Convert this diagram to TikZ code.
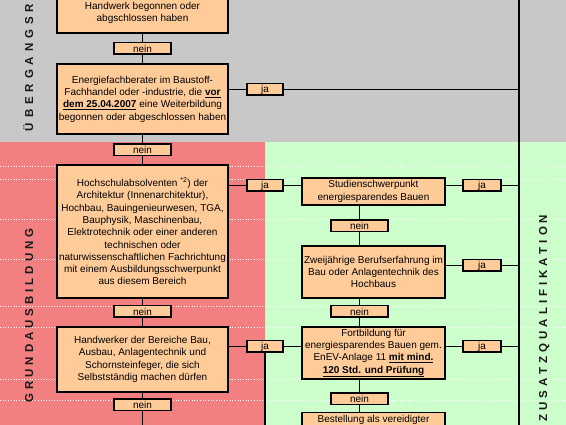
\documentclass[tikz,border=0pt]{standalone}
\usepackage{fontspec}
\setmainfont{Liberation Sans}
\definecolor{bggray}{RGB}{200,200,200}
\definecolor{bgred}{RGB}{242,128,128}
\definecolor{bggreen}{RGB}{204,255,204}
\definecolor{boxfill}{RGB}{255,204,153}
\newcommand{\lsA}{\kern3.95pt}
\newcommand{\lsB}{\kern4.9pt}
\begin{document}
\begin{tikzpicture}[x=1pt,y=-1pt,
  box/.style={draw=black, line width=1.5pt, fill=boxfill, align=center,
    font=\fontsize{10}{12.3}\selectfont, inner sep=0pt},
  tag/.style={draw=black, line width=1.5pt, fill=boxfill,
    font=\fontsize{10}{12}\selectfont, inner sep=0pt, minimum height=11.5pt},
  conn/.style={line width=1.6pt},
  side/.style={font=\fontsize{11.5}{13}\selectfont\bfseries, text=black!90,
    rotate=90, anchor=base, inner sep=0pt},
  gridln/.style={white, dotted, line width=0.7pt}
]
\path[use as bounding box, clip] (0,0) rectangle (566,425);
% backgrounds
\fill[bggray] (0,0) rectangle (566,142);
\fill[bgred] (0,142) rectangle (265,425);
\fill[bggreen] (265,142) rectangle (566,425);
\foreach \gy in {166,179,219,259,306,327,379,400}
  \draw[gridln] (0,\gy) -- (566,\gy);
% side labels
\node[side] (lab1) at (33.2,67.5) {Ü\lsB B\lsB E\lsB R\lsB G\lsB A\lsB N\lsB G\lsB S\lsB R};
\node[side] (lab2) at (33.2,315.5) {G\lsA R\lsA U\lsA N\lsA D\lsA A\lsA U\lsA S\lsA B\lsA I\lsA L\lsA D\lsA U\lsA N\lsA G};
\node[side] (lab3) at (547.2,318) {Z\lsA U\lsA S\lsA A\lsA T\lsA Z\lsA Q\lsA U\lsA A\lsA L\lsA I\lsA F\lsA I\lsA K\lsA A\lsA T\lsA I\lsA O\lsA N};
% helper coordinates
\coordinate (vt) at (519,-5);
\coordinate (vb) at (519,430);
\coordinate (bot) at (0,430);
% left column
\node[box, minimum width=171pt, minimum height=40pt] (b1) at (142.5,13)
  {Handwerk begonnen oder\\abgschlossen haben};
\node[tag, minimum width=57pt] (n1) at (142.5,48.5) {nein};
\node[box, minimum width=171pt, minimum height=70pt] (b2) at (142.5,99)
  {Energiefachberater im Baustoff-\\Fachhandel oder -industrie, die \underline{\textbf{vor}}\\\underline{\textbf{dem 25.04.2007}} eine Weiterbildung\\begonnen oder abgeschlossen haben};
\node[tag, minimum width=57pt] (n2) at (142.5,150) {nein};
\node[box, minimum width=171pt, minimum height=133pt] (b3) at (142.5,231.5)
  {Hochschulabsolventen \textsuperscript{*2}) der\\Architektur (Innenarchitektur),\\Hochbau, Bauingenieurwesen, TGA,\\Bauphysik, Maschinenbau,\\Elektrotechnik oder einer anderen\\technischen oder\\naturwissenschaftlichen Fachrichtung\\mit einem Ausbildungsschwerpunkt\\aus diesem Bereich};
\node[tag, minimum width=57pt] (n3) at (142.5,311.5) {nein};
\node[box, minimum width=171pt, minimum height=65pt] (b4) at (142.5,359.5)
  {Handwerker der Bereiche Bau,\\Ausbau, Anlagentechnik und\\Schornsteinfeger, die sich\\Selbstständig machen dürfen};
\node[tag, minimum width=57pt] (n4) at (142.5,405) {nein};
% left ja tags
\node[tag, minimum width=36pt] (j1) at (265,89.5) {ja};
\node[tag, minimum width=36pt] (j2) at (265,185.5) {ja};
\node[tag, minimum width=36pt] (j3) at (265,346.5) {ja};
% right column
\node[box, minimum width=143pt, minimum height=27pt] (r1) at (373.5,191.5)
  {Studienschwerpunkt\\energiesparendes Bauen};
\node[tag, minimum width=57pt] (n5) at (359.5,226) {nein};
\node[box, minimum width=143pt, minimum height=52pt] (r2) at (373.5,272)
  {Zweijährige Berufserfahrung im\\Bau oder Anlagentechnik des\\Hochbaus};
\node[tag, minimum width=57pt] (n6) at (359.5,311.5) {nein};
\node[box, minimum width=143pt, minimum height=52pt] (r3) at (373.5,353)
  {Fortbildung für\\energiesparendes Bauen gem.\\EnEV-Anlage 11 \underline{\textbf{mit mind.}}\\\underline{\textbf{120 Std. und Prüfung}}};
\node[tag, minimum width=57pt] (n7) at (359.5,399) {nein};
\node[box, minimum width=143pt, anchor=north, inner ysep=2.5pt, text depth=40pt] (r4) at (373.5,412)
  {Bestellung als vereidigter};
% right ja tags
\node[tag, minimum width=38pt] (j4) at (482,185.5) {ja};
\node[tag, minimum width=38pt] (j5) at (482,265.5) {ja};
\node[tag, minimum width=38pt] (j6) at (482,346.5) {ja};
% connectors
\draw[conn] (vt) -- (vb);
\draw[conn] (b1.south) -- (n1.north) (n1.south) -- (b2.north)
  (b2.south) -- (n2.north) (n2.south) -- (b3.north)
  (b3.south) -- (n3.north) (n3.south) -- (b4.north)
  (b4.south) -- (n4.north) (n4.south) -- (n4.south |- bot);
\draw[conn] (b2.east |- j1) -- (j1.west) (j1.east) -- (j1.east -| vt);
\draw[conn] (b3.east |- j2) -- (j2.west) (j2.east) -- (r1.west |- j2);
\draw[conn] (b4.east |- j3) -- (j3.west) (j3.east) -- (r3.west |- j3)
  (j3.south) -- (j3.south |- bot);
\draw[conn] (r1.east |- j4) -- (j4.west) (j4.east) -- (j4.east -| vt);
\draw[conn] (r2.east |- j5) -- (j5.west) (j5.east) -- (j5.east -| vt);
\draw[conn] (r3.east |- j6) -- (j6.west) (j6.east) -- (j6.east -| vt);
\draw[conn] (n5 |- r1.south) -- (n5.north) (n5.south) -- (n5 |- r2.north)
  (n6 |- r2.south) -- (n6.north) (n6.south) -- (n6 |- r3.north)
  (n7 |- r3.south) -- (n7.north) (n7.south) -- (n7 |- r4.north);
\end{tikzpicture}
\end{document}
